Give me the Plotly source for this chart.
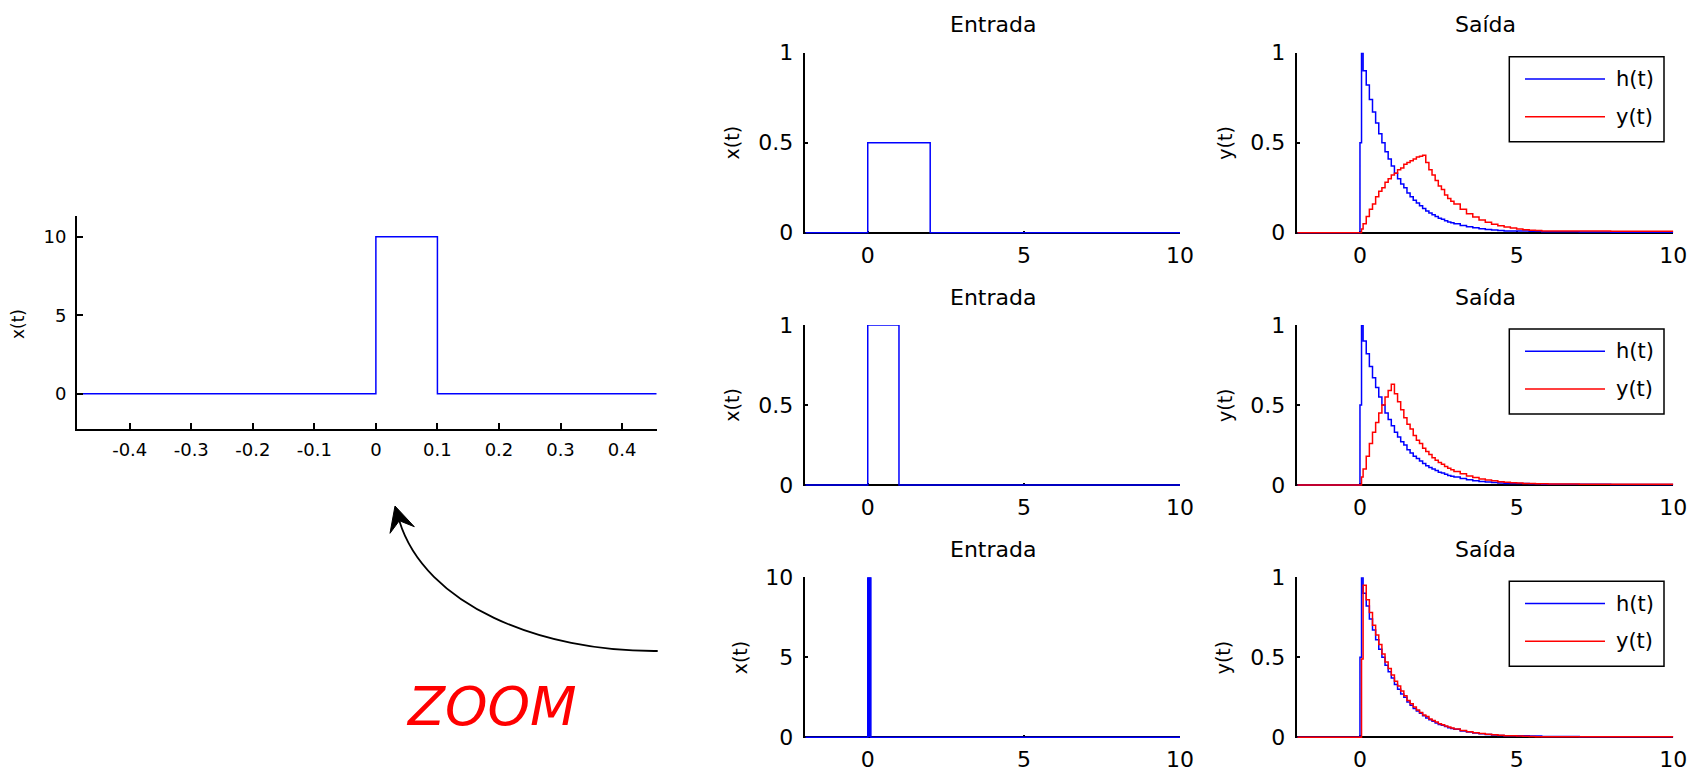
import plotly.graph_objects as go

# ---- data ----
# zoomed input pulse (left panel)
T_ZOOM = [-0.5, 0, 0, 0.1, 0.1, 0.5]
X_ZOOM = [0, 0, 10, 10, 0, 0]
ZOOM_TICKS = [-0.4, -0.3, -0.2, -0.1, 0, 0.1, 0.2, 0.3, 0.4]
ZOOM_TICK_LABELS = ["-0.4", "-0.3", "-0.2", "-0.1", "0", "0.1", "0.2", "0.3", "0.4"]

# inputs ("Entrada"), one per row
T_IN_1 = [-2, 0, 0, 2, 2, 10]
X_IN_1 = [0, 0, 0.5, 0.5, 0, 0]
T_IN_2 = [-2, 0, 0, 1, 1, 10]
X_IN_2 = [0, 0, 1, 1, 0, 0]
T_IN_3 = [-2, 0, 0, 0.1, 0.1, 10]
X_IN_3 = [0, 0, 10, 10, 0, 0]

# outputs ("Saída"), sampled (stairs)
T_OUT = [-2, 0, 0.05, 0.1, 0.2, 0.3, 0.4, 0.5, 0.6, 0.7, 0.8, 0.9, 1.0,
         1.1, 1.2, 1.3, 1.4, 1.5, 1.6, 1.7, 1.8, 1.9, 2.0, 2.1, 2.2, 2.3,
         2.4, 2.5, 2.6, 2.7, 2.8, 2.9, 3.0, 3.2, 3.4, 3.6, 3.8, 4.0, 4.2,
         4.4, 4.6, 4.8, 5.0, 5.2, 5.4, 5.6, 5.8, 6.0, 7.0, 8.0, 10.0]
H_OUT = [0, 0.5, 1.0, 0.90, 0.82, 0.74, 0.67, 0.61, 0.55, 0.50, 0.45, 0.41,
         0.37, 0.33, 0.30, 0.27, 0.25, 0.22, 0.20, 0.18, 0.165, 0.15, 0.135,
         0.12, 0.11, 0.10, 0.09, 0.08, 0.075, 0.067, 0.06, 0.055, 0.05, 0.04,
         0.033, 0.027, 0.022, 0.018, 0.015, 0.012, 0.01, 0.01, 0.01, 0.01,
         0.008, 0.008, 0.005, 0.005, 0.004, 0.003, 0.003]
Y_OUT_1 = [0, 0, 0.02, 0.05, 0.09, 0.13, 0.16, 0.20, 0.23, 0.25, 0.28, 0.30,
           0.32, 0.33, 0.35, 0.36, 0.38, 0.39, 0.40, 0.41, 0.42, 0.425, 0.43,
           0.39, 0.35, 0.32, 0.29, 0.26, 0.24, 0.21, 0.19, 0.175, 0.16, 0.13,
           0.105, 0.087, 0.07, 0.058, 0.047, 0.039, 0.032, 0.026, 0.021,
           0.017, 0.014, 0.012, 0.01, 0.01, 0.009, 0.008, 0.008]
Y_OUT_2 = [0, 0, 0.05, 0.10, 0.18, 0.26, 0.33, 0.39, 0.45, 0.50, 0.55, 0.59,
           0.63, 0.57, 0.52, 0.47, 0.42, 0.38, 0.35, 0.31, 0.28, 0.26, 0.23,
           0.21, 0.19, 0.17, 0.155, 0.14, 0.13, 0.115, 0.105, 0.095, 0.085,
           0.07, 0.057, 0.047, 0.038, 0.031, 0.026, 0.021, 0.017, 0.014,
           0.012, 0.01, 0.01, 0.008, 0.008, 0.006, 0.005, 0.004, 0.004]
Y_OUT_3 = [0, 0, 0.49, 0.95, 0.86, 0.78, 0.70, 0.64, 0.58, 0.52, 0.47, 0.43,
           0.39, 0.35, 0.32, 0.29, 0.26, 0.23, 0.21, 0.19, 0.17, 0.155, 0.14,
           0.13, 0.115, 0.105, 0.095, 0.085, 0.078, 0.07, 0.064, 0.058, 0.052,
           0.043, 0.035, 0.029, 0.023, 0.019, 0.016, 0.013, 0.01, 0.009,
           0.008, 0.006, 0.005, 0.004, 0.004, 0.003, 0.003, 0.003, 0.003]

ROW_TICKS = [0, 5, 10]
IN_YMAX = [1, 1, 10]
IN_YTICKS = [[0, 0.5, 1], [0, 0.5, 1], [0, 5, 10]]
OUT_YTICKS = [0, 0.5, 1]
LEGEND_NAMES = ["h(t)", "y(t)"]

# ---- layout geometry (pixels in the 1696x772 page) ----
W, H = 1696, 772
FONT = "DejaVu Sans"
BLUE, RED = "#0000ff", "#ff0000"
IN_LEFT, IN_RIGHT = 805.3, 1180
OUT_LEFT, OUT_RIGHT = 1297.3, 1673.3
ROWS = [(52.7, 232.7), (325, 485), (577.3, 737.3)]
IN_LABEL_X = [731.7, 731.7, 740]
OUT_LABEL_X = [1225, 1225, 1223]
PAD = 1.0  # px below y=0 so the zero line is not clipped


def px(x):
    return x / W


def py(y):
    return 1 - y / H


def row_axes(left, right, top, bottom, ymax, yticks):
    lo = -PAD * ymax / (bottom - top)
    xa = dict(domain=[px(left), px(right)], range=[-2, 10], tickvals=ROW_TICKS,
              showgrid=False, zeroline=False, showline=False, ticks="inside",
              ticklen=3, tickwidth=1.5, tickcolor="black", automargin=False,
              tickfont=dict(family=FONT, size=22, color="black"),
              ticklabelstandoff=6, layer="below traces")
    ya = dict(domain=[py(bottom + PAD), py(top)], range=[lo, ymax], tickvals=yticks,
              showgrid=False, zeroline=True, zerolinecolor="black",
              zerolinewidth=1.5, showline=True, linecolor="black", linewidth=1.5,
              ticks="inside", ticklen=3, tickwidth=1.5, tickcolor="black",
              automargin=False,
              tickfont=dict(family=FONT, size=22, color="black"),
              ticklabelstandoff=6, layer="below traces")
    return xa, ya


fig = go.Figure()

# left zoomed panel
fig.add_trace(go.Scatter(x=T_ZOOM, y=X_ZOOM, mode="lines", xaxis="x", yaxis="y",
                         line=dict(color=BLUE, width=1.5), name="x(t)"))

layout_axes = {}
layout_axes["xaxis"] = dict(domain=[px(76.8), px(656.5)], range=[-0.486, 0.456],
                            tickvals=ZOOM_TICKS, ticktext=ZOOM_TICK_LABELS,
                            showgrid=False, zeroline=False, showline=True,
                            linecolor="black", linewidth=1.5, ticks="inside",
                            ticklen=7, tickwidth=1.5, tickcolor="black",
                            automargin=False,
                            tickfont=dict(family=FONT, size=18, color="black"),
                            ticklabelstandoff=3, anchor="y")
layout_axes["yaxis"] = dict(domain=[py(429.4), py(216.3)], range=[-2.28, 11.31],
                            tickvals=[0, 5, 10], showgrid=False, zeroline=False,
                            showline=True, linecolor="black", linewidth=1.5,
                            ticks="inside", ticklen=6, tickwidth=1.5,
                            tickcolor="black", automargin=False,
                            tickfont=dict(family=FONT, size=18, color="black"),
                            ticklabelstandoff=5, anchor="x")

inputs = [(T_IN_1, X_IN_1), (T_IN_2, X_IN_2), (T_IN_3, X_IN_3)]
outputs = [Y_OUT_1, Y_OUT_2, Y_OUT_3]
annotations = []
shapes = []

for i, (top, bottom) in enumerate(ROWS):
    n_in, n_out = 2 + 2 * i, 3 + 2 * i
    xa, ya = row_axes(IN_LEFT, IN_RIGHT, top, bottom, IN_YMAX[i], IN_YTICKS[i])
    layout_axes[f"xaxis{n_in}"] = dict(xa, anchor=f"y{n_in}")
    layout_axes[f"yaxis{n_in}"] = dict(ya, anchor=f"x{n_in}")
    xa, ya = row_axes(OUT_LEFT, OUT_RIGHT, top, bottom, 1, OUT_YTICKS)
    layout_axes[f"xaxis{n_out}"] = dict(xa, anchor=f"y{n_out}")
    layout_axes[f"yaxis{n_out}"] = dict(ya, anchor=f"x{n_out}")

    t_in, x_in = inputs[i]
    fig.add_trace(go.Scatter(x=t_in, y=x_in, mode="lines",
                             xaxis=f"x{n_in}", yaxis=f"y{n_in}",
                             line=dict(color=BLUE, width=1.5),
                             fill="toself" if i == 2 else None,
                             fillcolor=BLUE, name="x(t)"))
    fig.add_trace(go.Scatter(x=T_OUT, y=H_OUT, mode="lines", line_shape="hv",
                             xaxis=f"x{n_out}", yaxis=f"y{n_out}",
                             line=dict(color=BLUE, width=1.5), name="h(t)"))
    fig.add_trace(go.Scatter(x=T_OUT, y=outputs[i], mode="lines", line_shape="hv",
                             xaxis=f"x{n_out}", yaxis=f"y{n_out}",
                             line=dict(color=RED, width=1.5), name="y(t)"))

    mid = (top + bottom) / 2
    for text, cx in (("Entrada", (IN_LEFT + IN_RIGHT) / 2),
                     ("Saída", (OUT_LEFT + OUT_RIGHT) / 2)):
        annotations.append(dict(text=text, x=px(cx), y=py(top - 28), xref="paper",
                                yref="paper", showarrow=False, xanchor="center",
                                yanchor="middle",
                                font=dict(family=FONT, size=22, color="black")))
    for text, cx in (("x(t)", IN_LABEL_X[i]), ("y(t)", OUT_LABEL_X[i])):
        annotations.append(dict(text=text, x=px(cx), y=py(mid), xref="paper",
                                yref="paper", showarrow=False, textangle=-90,
                                xanchor="center", yanchor="middle",
                                font=dict(family=FONT, size=19, color="black")))

    # legend box drawn in the upper right of each output panel
    shapes.append(dict(type="rect", xref="paper", yref="paper",
                       x0=px(1509.3), x1=px(1664), y0=py(top + 4), y1=py(top + 89),
                       line=dict(color="black", width=1.5), fillcolor="white",
                       layer="above"))
    for name, color, dy in ((LEGEND_NAMES[0], BLUE, 26.3), (LEGEND_NAMES[1], RED, 64)):
        shapes.append(dict(type="line", xref="paper", yref="paper",
                           x0=px(1525), x1=px(1605), y0=py(top + dy), y1=py(top + dy),
                           line=dict(color=color, width=1.5), layer="above"))
        annotations.append(dict(text=name, x=px(1614), y=py(top + dy), xref="paper",
                                yref="paper", showarrow=False, xanchor="left",
                                yanchor="middle",
                                font=dict(family=FONT, size=21, color="black")))

# left panel y label
annotations.append(dict(text="x(t)", x=px(18.5), y=py(324.5), xref="paper",
                        yref="paper", showarrow=False, textangle=-90,
                        xanchor="center", yanchor="middle",
                        font=dict(family=FONT, size=17, color="black")))

# curved arrow and "ZOOM" label
curve = (f"M {px(657.7)},{py(651)} C {px(540)},{py(652)} {px(425)},{py(605)} "
         f"{px(399.3)},{py(520.7)}")
shapes.append(dict(type="path", xref="paper", yref="paper", path=curve,
                   line=dict(color="black", width=1.8)))
head = (f"M {px(395)},{py(506)} L {px(390)},{py(533.3)} L {px(399.3)},{py(520.7)} "
        f"L {px(414.3)},{py(526.7)} Z")
shapes.append(dict(type="path", xref="paper", yref="paper", path=head,
                   fillcolor="black", line=dict(color="black", width=1)))
annotations.append(dict(text="ZOOM", x=px(491), y=py(706), xref="paper", yref="paper",
                        showarrow=False, xanchor="center", yanchor="middle",
                        font=dict(family=FONT, size=54, color=RED, style="italic")))

fig.update_layout(template="none", width=W, height=H,
                  margin=dict(l=0, r=0, t=0, b=0, pad=0),
                  paper_bgcolor="white", plot_bgcolor="white", showlegend=False,
                  annotations=annotations, shapes=shapes, **layout_axes)

# page has a default 8px body margin; drop it so the figure fills the window
fig.write_html("out.html", config={"displayModeBar": False},
               post_script="document.body.style.margin='0';"
                           "document.body.style.overflow='hidden';")
